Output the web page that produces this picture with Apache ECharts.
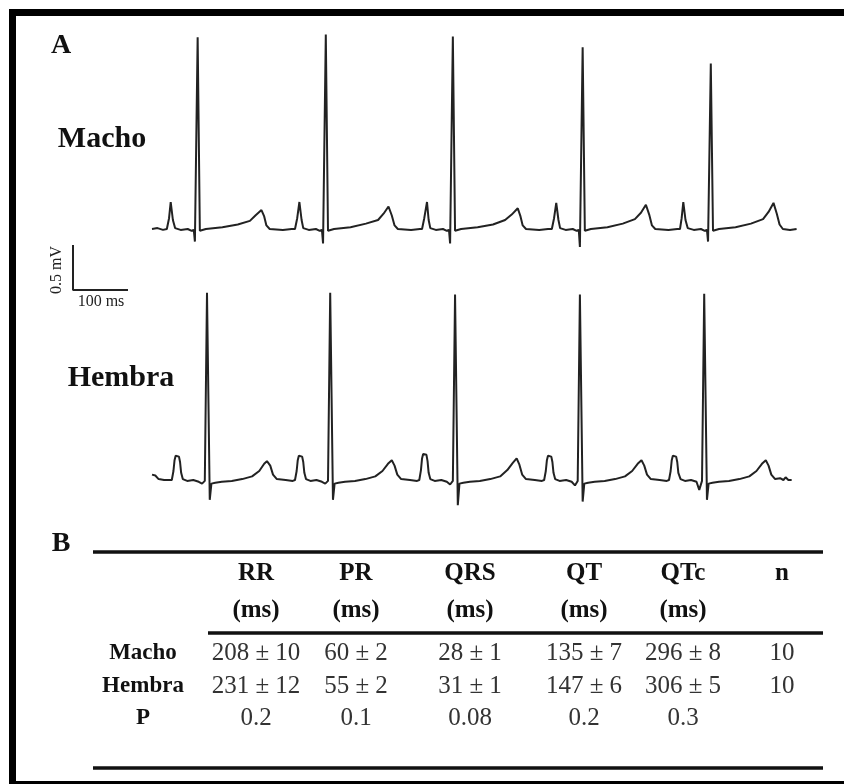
<!DOCTYPE html>
<html>
<head>
<meta charset="utf-8">
<script src="https://cdn.jsdelivr.net/npm/echarts@6/dist/echarts.min.js"></script>
<style>
html,body{margin:0;padding:0;background:#fff;}
#c{width:844px;height:784px;}
</style>
</head>
<body>
<div id="c"></div>
<script>
// ---- ECG traces: [time (ms), voltage (mV)] ----
const machoTrace = [
  [0,0.00],[10,0.01],[20,-0.01],
  [27,0.00],[31,0.12],[34,0.30],[38,0.10],[42,0.01],[52,-0.01],[65,0.00],[72,-0.02],[76,-0.01],[78,-0.14],[83,2.13],[87,-0.02],[90,-0.04],[98,0.00],[128,0.02],[156,0.05],[178,0.09],[188,0.15],[199,0.21],[204,0.14],[208,0.04],[214,0.00],[238,-0.01],[254,0.00],
  [260,0.00],[264,0.12],[268,0.30],[272,0.10],[275,0.01],[285,-0.01],[298,0.00],[305,-0.02],[309,-0.01],[311,-0.16],[316,2.16],[320,-0.02],[323,-0.04],[331,0.00],[361,0.02],[389,0.06],[411,0.10],[421,0.17],[430,0.25],[436,0.15],[441,0.04],[447,0.00],[471,-0.01],[487,0.00],
  [491,0.00],[495,0.12],[500,0.30],[503,0.10],[506,0.01],[516,-0.01],[529,0.00],[536,-0.02],[540,-0.01],[542,-0.16],[547,2.14],[551,-0.02],[554,-0.04],[562,0.00],[592,0.02],[620,0.05],[642,0.10],[654,0.16],[665,0.23],[670,0.14],[674,0.04],[680,0.00],[704,-0.01],[720,0.00],
  [727,0.00],[731,0.12],[735,0.29],[739,0.10],[742,0.01],[752,-0.01],[765,0.00],[772,-0.02],[776,-0.01],[778,-0.20],[783,2.02],[787,-0.02],[790,-0.04],[798,0.00],[828,0.02],[856,0.06],[878,0.11],[889,0.18],[898,0.27],[904,0.16],[909,0.04],[915,0.00],[939,-0.01],[955,0.00],
  [960,0.00],[963,0.12],[966,0.30],[970,0.10],[974,0.01],[985,-0.01],[998,0.00],[1005,-0.02],[1009,-0.01],[1011,-0.14],[1016,1.84],[1020,-0.02],[1023,-0.04],[1031,0.00],[1061,0.02],[1089,0.06],[1111,0.11],[1121,0.19],[1130,0.29],[1136,0.17],[1141,0.05],[1147,0.00],[1160,-0.01],[1172,0.00]
];

const hembraTrace = [
  [0,0.06],[6,0.05],[12,0.01],[22,0.00],
  [36,0.00],[39,0.10],[41,0.22],[43,0.27],[46,0.28],[49,0.26],[51,0.20],[53,0.08],[56,0.01],[64,-0.01],[75,0.00],[85,-0.02],[91,-0.04],[96,-0.01],[100,2.08],[105,-0.22],[108,-0.04],[115,-0.03],[127,-0.02],[145,-0.01],[164,0.01],[182,0.04],[195,0.10],[204,0.18],[209,0.21],[215,0.16],[220,0.06],[227,0.01],[243,0.00],[256,-0.01],
  [260,0.00],[263,0.10],[265,0.22],[267,0.27],[270,0.28],[273,0.26],[275,0.20],[277,0.08],[280,0.01],[288,-0.01],[299,0.00],[309,-0.02],[315,-0.04],[320,-0.01],[324,2.08],[329,-0.22],[332,-0.04],[339,-0.03],[351,-0.02],[369,-0.01],[388,0.01],[406,0.04],[419,0.10],[429,0.18],[436,0.22],[441,0.16],[446,0.06],[453,0.01],[469,0.00],[482,-0.01],
  [486,0.00],[489,0.11],[491,0.24],[493,0.29],[496,0.30],[499,0.28],[501,0.21],[503,0.08],[506,0.01],[514,-0.01],[526,0.00],[536,-0.02],[542,-0.05],[547,-0.01],[551,2.06],[556,-0.28],[559,-0.04],[566,-0.03],[578,-0.02],[596,-0.01],[615,0.01],[633,0.04],[646,0.11],[656,0.19],[663,0.24],[668,0.17],[673,0.06],[680,0.01],[696,0.00],[709,-0.01],
  [713,0.00],[716,0.10],[718,0.22],[720,0.27],[723,0.28],[726,0.26],[728,0.20],[730,0.08],[733,0.01],[741,-0.01],[753,0.00],[763,-0.02],[769,-0.06],[774,-0.01],[778,2.06],[783,-0.24],[786,-0.04],[793,-0.03],[805,-0.02],[823,-0.01],[842,0.01],[860,0.04],[873,0.10],[883,0.18],[890,0.22],[895,0.16],[900,0.06],[907,0.01],[923,0.00],[936,-0.01],
  [940,0.00],[943,0.10],[945,0.22],[947,0.27],[950,0.28],[953,0.26],[955,0.20],[957,0.08],[961,0.01],[969,-0.01],[980,0.00],[990,-0.02],[995,-0.11],[1000,-0.01],[1004,2.07],[1009,-0.22],[1012,-0.04],[1019,-0.03],[1031,-0.02],[1049,-0.01],[1068,0.01],[1086,0.04],[1099,0.10],[1109,0.18],[1116,0.22],[1121,0.16],[1126,0.06],[1133,0.01],[1142,0.02],[1148,0.00],[1152,0.03],[1157,0.00],[1163,0.00]
];

// scale bar: 100 ms by 0.5 mV
const scaleBar = [[0,0.5],[0,0],[100,0]];
const scaleLabels = ['0.5 mV', '100 ms'];

// ---- panel text ----
const panelLabels = ['A', 'B'];
const traceLabels = ['Macho', 'Hembra'];

// ---- table (panel B) ----
const headers = ['RR', 'PR', 'QRS', 'QT', 'QTc', 'n'];
const units = ['(ms)', '(ms)', '(ms)', '(ms)', '(ms)', ''];
const rowLabels = ['Macho', 'Hembra', 'P'];
const machoRow = ['208 ± 10', '60 ± 2', '28 ± 1', '135 ± 7', '296 ± 8', '10'];
const hembraRow = ['231 ± 12', '55 ± 2', '31 ± 1', '147 ± 6', '306 ± 5', '10'];
const pRow = ['0.2', '0.1', '0.08', '0.2', '0.3', ''];

// ---- layout ----
const SERIF = '"Liberation Serif","DejaVu Serif",serif';
const colX = [256, 356, 470, 584, 683, 782];
const rowsY = [653, 686, 718];
const rows = [machoRow, hembraRow, pRow];

const chart = echarts.init(document.getElementById('c'), null, {renderer: 'canvas'});

const g = [];
g.push({type: 'rect', shape: {x: 12.5, y: 12.5, width: 845, height: 772},
  style: {fill: 'none', stroke: '#000', lineWidth: 7}, z: 10});

function txt(x, y, s, font, color, extra) {
  g.push(Object.assign({type: 'text', x: x, y: y,
    style: {text: s, font: font, fill: color || '#111', textAlign: 'center', textVerticalAlign: 'middle'}}, extra || {}));
}
txt(61, 46, panelLabels[0], 'bold 28px ' + SERIF);
txt(61, 544, panelLabels[1], 'bold 28px ' + SERIF);
txt(102, 139, traceLabels[0], 'bold 30px ' + SERIF);
txt(121, 378, traceLabels[1], 'bold 30px ' + SERIF);
txt(57, 270, scaleLabels[0], '16px ' + SERIF, '#222', {rotation: Math.PI / 2});
txt(101, 302, scaleLabels[1], '16px ' + SERIF, '#222');

function hline(x1, x2, y, w) {
  g.push({type: 'line', shape: {x1: x1, y1: y, x2: x2, y2: y}, style: {stroke: '#111', lineWidth: w}});
}
hline(93, 823, 552, 3.5);
hline(208, 823, 633, 3.5);
hline(93, 823, 768, 3.5);

headers.forEach((h, i) => {
  txt(colX[i], 574, h, 'bold 25px ' + SERIF);
  if (units[i]) txt(colX[i], 611, units[i], 'bold 25px ' + SERIF);
});
rowLabels.forEach((r, j) => {
  txt(143, rowsY[j], r, 'bold 23px ' + SERIF);
  rows[j].forEach((v, i) => { if (v) txt(colX[i], rowsY[j], v, '25px ' + SERIF, '#333'); });
});

const ax = (i, min, max) => ({gridIndex: i, type: 'value', min: min, max: max, show: false});

chart.setOption({
  animation: false,
  backgroundColor: '#fff',
  grid: [
    {left: 152, top: 22, width: 646.25, height: 234},
    {left: 152, top: 273, width: 646.25, height: 234},
    {left: 73, top: 245, width: 55, height: 45}
  ],
  xAxis: [ax(0, 0, 1175), ax(1, 0, 1175), ax(2, 0, 100)],
  yAxis: [ax(0, -0.3, 2.3), ax(1, -0.3, 2.3), ax(2, 0, 0.5)],
  series: [
    {type: 'line', xAxisIndex: 0, yAxisIndex: 0, data: machoTrace, symbol: 'none',
      lineStyle: {color: '#222', width: 2}},
    {type: 'line', xAxisIndex: 1, yAxisIndex: 1, data: hembraTrace, symbol: 'none',
      lineStyle: {color: '#222', width: 2}},
    {type: 'line', xAxisIndex: 2, yAxisIndex: 2, data: scaleBar, symbol: 'none',
      lineStyle: {color: '#222', width: 2}}
  ],
  graphic: g
});
</script>
</body>
</html>
